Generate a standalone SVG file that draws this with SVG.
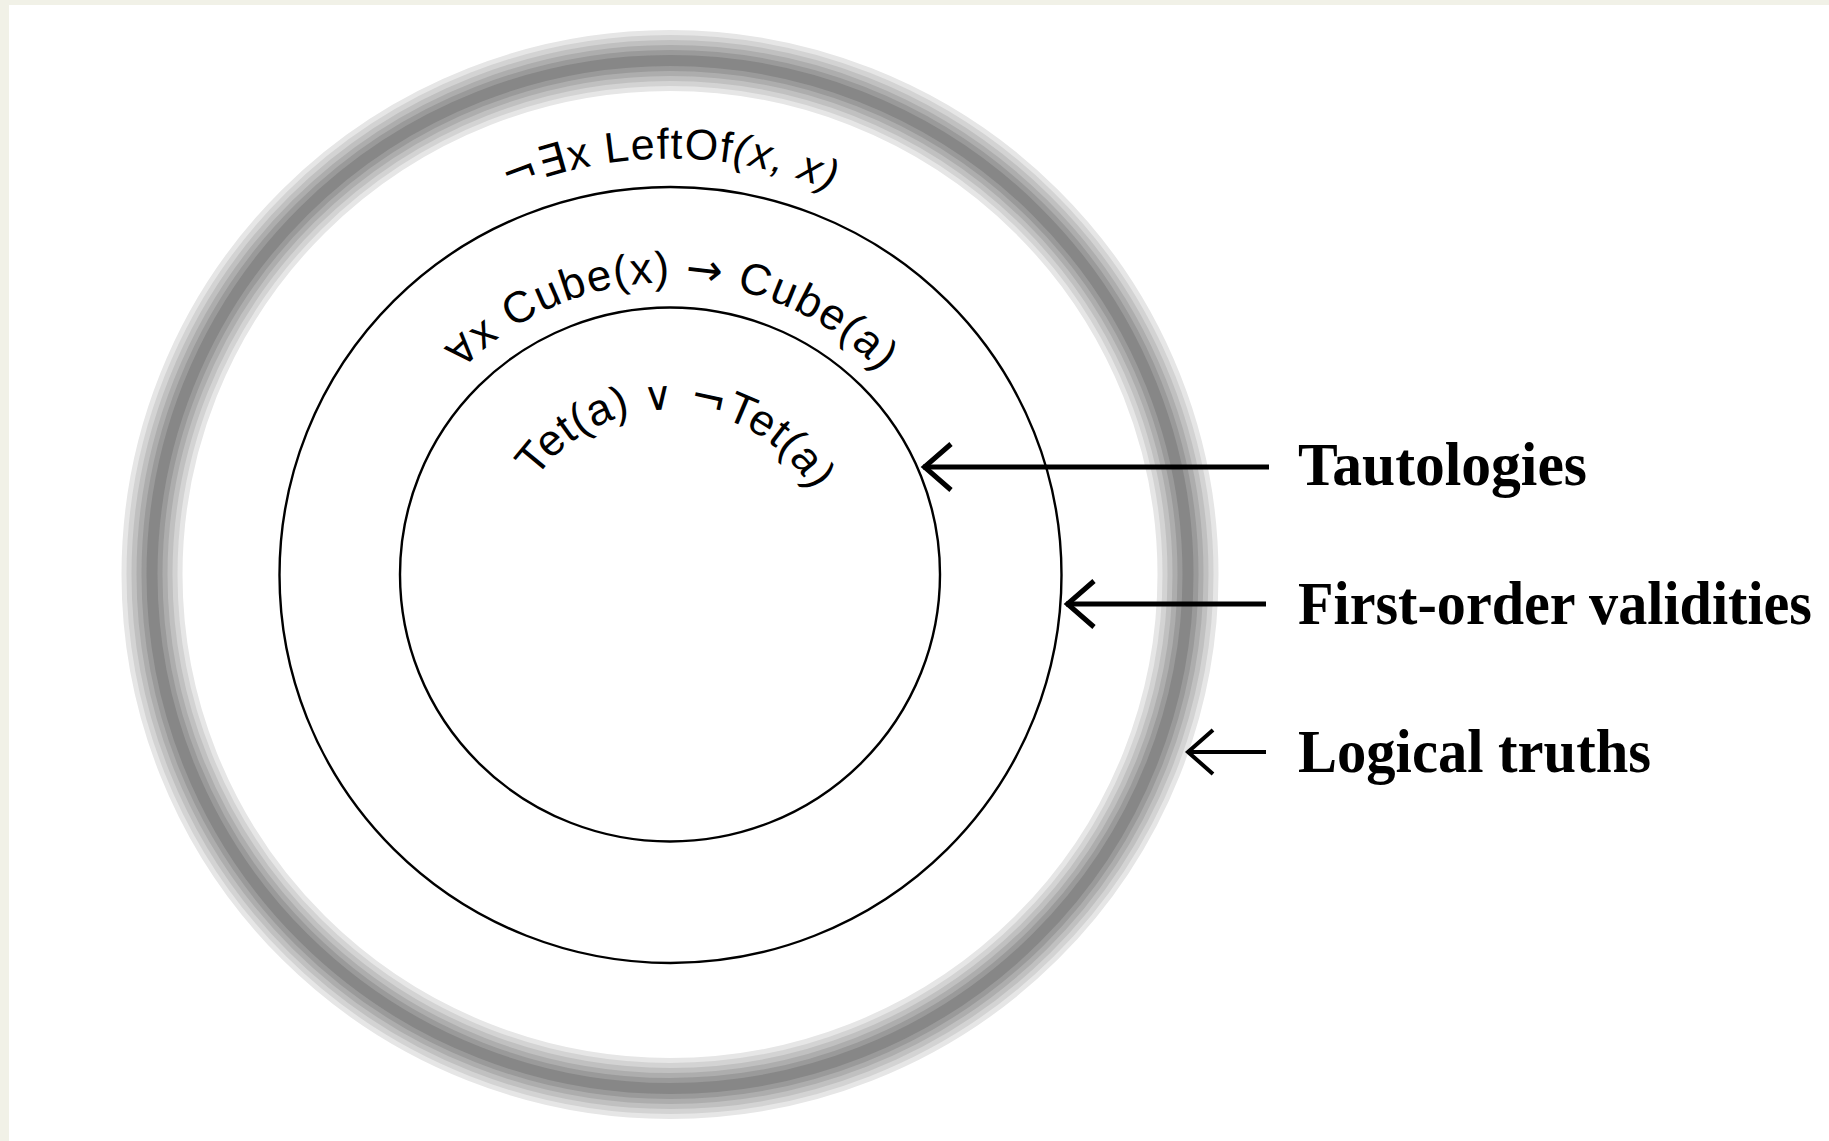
<svg xmlns="http://www.w3.org/2000/svg" width="1829" height="1141" viewBox="0 0 1829 1141">
<defs>
<style>
.bg{fill:#f1f1e7}
.panel{fill:#ffffff}
.circ{fill:none;stroke:#000;stroke-width:2.4}
.band{fill:none}
.arc{font-family:"Liberation Sans","DejaVu Sans",sans-serif;fill:#000}
.sym{font-family:"DejaVu Sans",sans-serif}
.lbl{font-family:"Liberation Serif","DejaVu Serif",serif;font-weight:bold;font-size:62px;fill:#000}
.conn{stroke:#000;fill:none}
</style>
<marker id="chev4" markerUnits="userSpaceOnUse" markerWidth="40" markerHeight="60" viewBox="-5 -30 40 60" refX="0" refY="0" orient="0" overflow="visible">
<path d="M28,-23 L1.5,0 L28,23" fill="none" stroke="#000" stroke-width="5"/>
</marker>
<marker id="chev3" markerUnits="userSpaceOnUse" markerWidth="40" markerHeight="60" viewBox="-5 -30 40 60" refX="0" refY="0" orient="0" overflow="visible">
<path d="M26,-22 L1,0 L26,22" fill="none" stroke="#000" stroke-width="4"/>
</marker>
<path id="pLeft" d="M254,574.5 A416 416 0 0 1 1086,574.5"/>
<path id="pCube" d="M378,574.5 A292 292 0 0 1 962,574.5"/>
<path id="pTet" d="M505,574.5 A165 165 0 0 1 835,574.5"/>
</defs>
<rect class="bg" x="0" y="0" width="1829" height="1141"/>
<rect class="panel" x="9" y="5" width="1820" height="1136"/>

<g id="logical-truths">
<ellipse class="band" cx="670" cy="574.5" rx="518" ry="514" stroke="#e6e6e6" stroke-width="61"/>
<ellipse class="band" cx="670" cy="574.5" rx="518" ry="514" stroke="#d3d3d3" stroke-width="51"/>
<ellipse class="band" cx="670" cy="574.5" rx="518" ry="514" stroke="#c0c0c0" stroke-width="41"/>
<ellipse class="band" cx="670" cy="574.5" rx="518" ry="514" stroke="#adadad" stroke-width="31"/>
<ellipse class="band" cx="670" cy="574.5" rx="518" ry="514" stroke="#9a9a9a" stroke-width="21"/>
<ellipse class="band" cx="670" cy="574.5" rx="518" ry="514" stroke="#878787" stroke-width="11"/>
</g>
<g id="first-order-validities">
<ellipse class="circ" cx="670.5" cy="575" rx="391" ry="388"/>
</g>
<g id="tautologies">
<ellipse class="circ" cx="670" cy="574.5" rx="270" ry="267"/>
</g>

<g id="label-leftof">
<text class="arc" font-size="43" letter-spacing="1.5"><textPath href="#pLeft" startOffset="50%" text-anchor="middle"><tspan class="sym">¬∃</tspan>x LeftOf<tspan font-style="italic">(x, x)</tspan></textPath></text>
</g>
<g id="label-cube">
<text class="arc" font-size="44" letter-spacing="1.5"><textPath href="#pCube" startOffset="461" text-anchor="middle"><tspan class="sym" font-size="38">∀</tspan>x Cube(x) <tspan class="sym">→</tspan> Cube(a)</textPath></text>
</g>
<g id="label-tet">
<text class="arc" font-size="44" letter-spacing="0.8"><textPath href="#pTet" startOffset="267" text-anchor="middle">Tet(a) <tspan class="sym" font-size="40">∨</tspan> <tspan class="sym">¬</tspan>Tet(a)</textPath></text>
</g>

<g id="connectors">
<line class="conn" stroke-width="5" x1="923" y1="467" x2="1269" y2="467" marker-start="url(#chev4)"/>
<line class="conn" stroke-width="5" x1="1066" y1="604" x2="1266" y2="604" marker-start="url(#chev4)"/>
<line class="conn" stroke-width="4" x1="1187" y1="752" x2="1266" y2="752" marker-start="url(#chev3)"/>
</g>

<g id="legend">
<text class="lbl" x="1298" y="485" textLength="289" lengthAdjust="spacingAndGlyphs">Tautologies</text>
<text class="lbl" x="1298" y="624" textLength="514" lengthAdjust="spacingAndGlyphs">First-order validities</text>
<text class="lbl" x="1298" y="772" textLength="353" lengthAdjust="spacingAndGlyphs">Logical truths</text>
</g>
</svg>
